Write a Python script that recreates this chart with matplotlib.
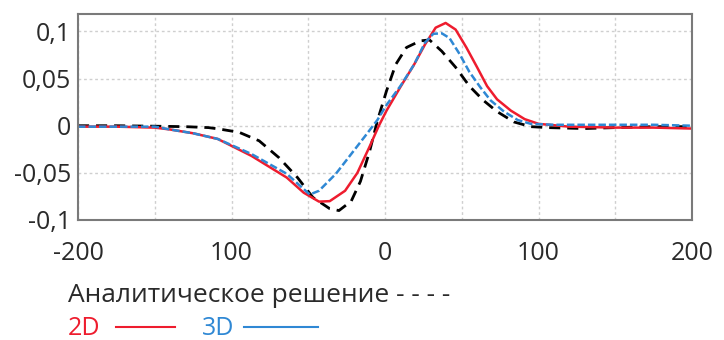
import numpy as np
import matplotlib
matplotlib.use("Agg")
from matplotlib import pyplot as plt
from matplotlib.lines import Line2D

plt.rcParams['font.family'] = ['Open Sans', 'DejaVu Sans']

# Analytical solution (black dashed)
x_an = [-200, -175, -150, -130, -115, -108, -95, -82, -69, -57, -47, -36, -30,
        -22, -16, -10, -5, 1, 7, 14, 23, 29, 37, 46, 55, 64, 73, 84, 95, 106,
        130, 150, 175, 200]
y_an = [0.0, 0.0, -0.0005, -0.001, -0.002, -0.0035, -0.007, -0.016, -0.034,
        -0.055, -0.076, -0.088, -0.090, -0.080, -0.059, -0.027, 0.005, 0.037,
        0.065, 0.083, 0.090, 0.091, 0.079, 0.062, 0.042, 0.027, 0.015, 0.004,
        -0.001, -0.002, -0.003, -0.002, -0.001, -0.001]

# 2D (red solid)
x_2d = [-200, -175, -150, -140, -125, -109, -87, -64, -53, -43, -36, -26, -18,
        -10, -4, 1, 10, 19, 26, 33, 39.5, 46, 53, 60, 66.5, 73, 82, 91, 100,
        120, 150, 175, 200]
y_2d = [-0.001, -0.001, -0.002, -0.004, -0.008, -0.014, -0.032, -0.055,
        -0.071, -0.0805, -0.080, -0.069, -0.050, -0.022, 0.0, 0.016, 0.041,
        0.065, 0.086, 0.104, 0.109, 0.102, 0.083, 0.062, 0.042, 0.028, 0.016,
        0.007, 0.002, -0.001, -0.002, -0.002, -0.003]

# 3D (blue dashed)
x_3d = [-200, -175, -150, -140, -125, -109, -87, -64, -49, -43, -32, -22, -12,
        -5, 1, 10, 19, 26, 31.5, 37, 42, 48.6, 55, 62, 68.7, 77.5, 86.5, 95,
        110, 150, 175, 200]
y_3d = [-0.001, -0.001, -0.001, -0.004, -0.008, -0.014, -0.030, -0.051,
        -0.073, -0.069, -0.051, -0.030, -0.009, 0.006, 0.022, 0.042, 0.065,
        0.088, 0.0975, 0.098, 0.093, 0.076, 0.057, 0.041, 0.027, 0.015, 0.006,
        0.002, 0.001, 0.001, 0.001, 0.0]

x_ticks = [-200, -100, 0, 100, 200]
x_tick_labels = ["-200", "100", "0", "100", "200"]
y_ticks = [-0.1, -0.05, 0, 0.05, 0.1]
y_tick_labels = ["-0,1", "-0,05", "0", "0,05", "0,1"]

red = "#ee1c2e"
blue = "#2f88d4"
txt = "#2a2a2a"

fig = plt.figure(figsize=(7.24, 3.4), dpi=100)
ax = fig.add_axes([78 / 724, 1 - 220 / 340, (692 - 78) / 724, (220 - 14) / 340])

ax.plot(x_an, y_an, color="black", lw=2, ls=(0, (4, 2.5)))
ax.plot(x_2d, y_2d, color=red, lw=1.8)
ax.plot(x_3d, y_3d, color=blue, lw=1.8, ls=(0, (3, 1.2)))

ax.set_xlim(-200, 200)
ax.set_ylim(-0.1, 0.1185)

ax.set_xticks(x_ticks)
ax.set_xticklabels(x_tick_labels)
ax.set_xticks(np.arange(-150, 200, 50), minor=True)
ax.set_yticks(y_ticks)
ax.set_yticklabels(y_tick_labels)

ax.grid(True, which="both", color="#cfcfcf", ls=(0, (2, 2)), lw=1)
ax.tick_params(which="both", length=0, labelsize=18, labelcolor=txt)
ax.tick_params(axis="x", pad=15)
ax.tick_params(axis="y", pad=5)

for s in ax.spines.values():
    s.set_color("#7a7a7a")
    s.set_linewidth(1.5)

# custom legend below the plot
fig.text(68 / 724, 1 - 302 / 340, "Аналитическое решение - - - -",
         fontsize=19, color=txt, va="baseline")
fig.text(68 / 724, 1 - 335 / 340, "2D", fontsize=18, color=red, va="baseline")
fig.add_artist(Line2D([116 / 724, 175 / 724], [1 - 327 / 340] * 2, color=red, lw=1.5))
fig.text(202 / 724, 1 - 335 / 340, "3D", fontsize=18, color=blue, va="baseline")
fig.add_artist(Line2D([244 / 724, 318 / 724], [1 - 327 / 340] * 2, color=blue, lw=1.5))

fig.savefig("out.png", dpi=100)
